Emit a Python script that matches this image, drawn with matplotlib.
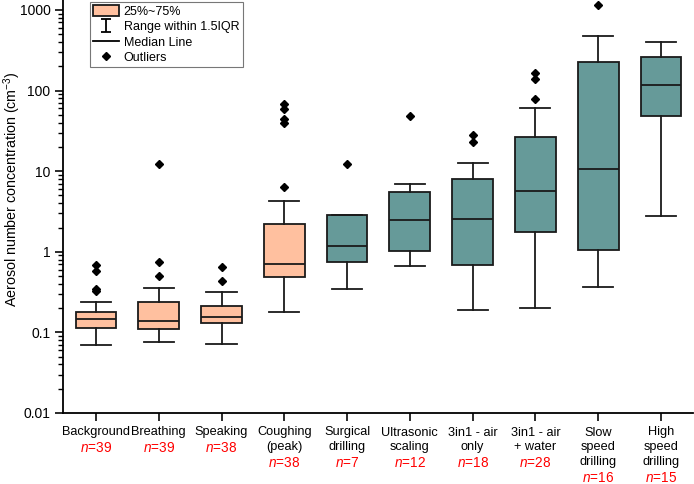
import numpy as np
import matplotlib
matplotlib.use("Agg")
import matplotlib.pyplot as plt
from matplotlib.patches import Patch
from matplotlib.lines import Line2D

plt.rcParams['font.family'] = ['Liberation Sans', 'DejaVu Sans']
plt.rcParams['mathtext.fontset'] = 'custom'
plt.rcParams['mathtext.rm'] = 'Liberation Sans'
plt.rcParams['mathtext.it'] = 'Liberation Sans:italic'

categories = [["Background"], ["Breathing"], ["Speaking"], ["Coughing", "(peak)"],
              ["Surgical", "drilling"], ["Ultrasonic", "scaling"], ["3in1 - air", "only"],
              ["3in1 - air", "+ water"], ["Slow", "speed", "drilling"], ["High", "speed", "drilling"]]
n_counts = [39, 39, 38, 38, 7, 12, 18, 28, 16, 15]
whisker_low = [0.069, 0.075, 0.072, 0.18, 0.35, 0.66, 0.188, 0.203, 0.37, 2.78]
q1 = [0.112, 0.110, 0.130, 0.48, 0.74, 1.01, 0.69, 1.74, 1.05, 49.0]
median = [0.145, 0.140, 0.156, 0.71, 1.19, 2.45, 2.57, 5.7, 10.5, 118.0]
q3 = [0.177, 0.241, 0.211, 2.19, 2.89, 5.56, 7.89, 26.9, 225.0, 259.0]
whisker_high = [0.239, 0.359, 0.32, 4.3, 2.89, 6.92, 12.6, 61.0, 481.0, 398.0]
outliers = [[0.69, 0.57, 0.35, 0.33], [0.75, 0.50, 12.2], [0.647, 0.43],
            [67.8, 59.3, 44.6, 39.8, 6.35], [12.4], [49.0], [28.3, 22.7],
            [167.0, 140.0, 78.9], [1150.0], []]
group = ["human"] * 4 + ["dental"] * 6

colors = {"human": "#FFC09F", "dental": "#669A99"}

fig = plt.figure(figsize=(6.94, 4.84), dpi=100)
ax = fig.add_axes([63 / 694, 1 - 413 / 484, (693 - 63) / 694, 413 / 484])

stats = []
for i in range(len(categories)):
    stats.append(dict(whislo=whisker_low[i], q1=q1[i], med=median[i], q3=q3[i],
                      whishi=whisker_high[i], fliers=outliers[i]))
positions = np.arange(1, len(categories) + 1)
lw = 1.3
ec = '#1a1a1a'
bp = ax.bxp(stats, positions=positions, widths=0.65, patch_artist=True,
            showcaps=True,
            boxprops=dict(linewidth=lw, edgecolor=ec),
            medianprops=dict(color=ec, linewidth=lw),
            whiskerprops=dict(color=ec, linewidth=lw),
            capprops=dict(color=ec, linewidth=lw),
            flierprops=dict(marker='D', markerfacecolor='black', markeredgecolor='black',
                            markersize=4.5, linestyle='none'))
for patch, g in zip(bp['boxes'], group):
    patch.set_facecolor(colors[g])
for cap in bp['caps']:
    c = np.mean(cap.get_xdata())
    cap.set_xdata([c - 0.24, c + 0.24])

ax.set_yscale('log')
ax.set_ylim(0.01, 10 ** (3 + 10 / 80.7))
ax.set_xlim(0.475, 10.51)
ax.set_yticks([0.01, 0.1, 1, 10, 100, 1000])
ax.set_yticklabels(["0.01", "0.1", "1", "10", "100", "1000"])
ax.set_xticks(positions)
ax.set_xticklabels([""] * len(positions))
for s in ['top', 'right']:
    ax.spines[s].set_visible(False)
for s in ['left', 'bottom']:
    ax.spines[s].set_linewidth(1.3)
ax.tick_params(axis='both', direction='out', width=1.3, labelsize=10, color=ec)
ax.tick_params(axis='y', which='major', length=6, pad=3)
ax.tick_params(axis='y', which='minor', length=3.5, width=1.0)
ax.tick_params(axis='x', which='major', length=6)
ax.set_ylabel("Aerosol number concentration (cm$^{-3}$)", fontsize=10.3)
ax.yaxis.set_label_coords(-0.0635, 0.542)

pitch = 14.7 * 0.72
top_off = 13.5 * 0.72
for i, lines in enumerate(categories):
    for j, line in enumerate(lines):
        ax.annotate(line, xy=(positions[i], 0), xycoords=('data', 'axes fraction'),
                    xytext=(0, -top_off - j * pitch), textcoords='offset points',
                    ha='center', va='top', fontsize=9.2)
    ax.annotate(r"$\it{n}$=%d" % n_counts[i], xy=(positions[i], 0),
                xycoords=('data', 'axes fraction'),
                xytext=(0, -top_off - len(lines) * pitch), textcoords='offset points',
                ha='center', va='top', fontsize=9.8, color='#FF0000')

eb = ax.errorbar([np.nan], [np.nan], yerr=[[1], [1]], fmt='none', ecolor='black',
                 capsize=3.5, elinewidth=1.3, capthick=1.3)
handles = [Patch(facecolor=colors["human"], edgecolor=ec, linewidth=1.3),
           eb,
           Line2D([], [], color='black', linewidth=1.3),
           Line2D([], [], marker='D', color='black', linestyle='none', markersize=4.5)]
labels = ["25%~75%", "Range within 1.5IQR", "Median Line", "Outliers"]
leg = ax.legend(handles, labels, loc='upper left',
                bbox_to_anchor=(90 / 694, 1 - 2 / 484), bbox_transform=fig.transFigure,
                fontsize=9, frameon=True, fancybox=False, edgecolor='#555555',
                borderpad=0.25, labelspacing=0.2, handlelength=2.1, handleheight=1.0,
                handletextpad=0.35, borderaxespad=0)
leg.get_frame().set_linewidth(0.8)

fig.savefig("out.png", dpi=100)
